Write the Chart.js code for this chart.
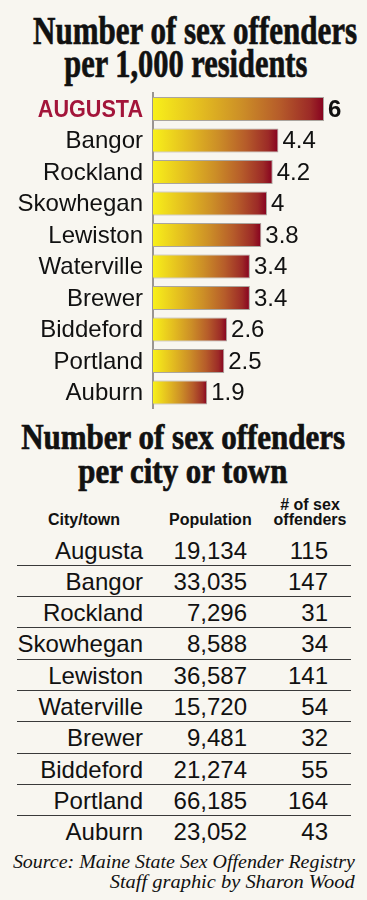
<!DOCTYPE html>
<html>
<head>
<meta charset="utf-8">
<script src="https://cdn.jsdelivr.net/npm/chart.js@4.4.1/dist/chart.umd.min.js"></script>
<style>
  html, body { margin: 0; padding: 0; }
  body { width: 367px; height: 900px; background: #f8f6f0; position: relative; overflow: hidden; color: #111; }
  .tl { position: absolute; text-align: center; white-space: nowrap; font-family: "Liberation Serif", serif; font-weight: bold; color: #111; -webkit-text-stroke: 0.7px #111; }
  .tl span { display: inline-block; transform-origin: center center; }
  #chartBox { position: absolute; left: 0; top: 88px; width: 367px; height: 324px; }
  .row { position: absolute; left: 17px; width: 334px; height: 31.3px; font-family: "Liberation Sans", Arial, sans-serif; font-size: 24px; line-height: 31.3px; color: #111; box-sizing: border-box; }
  .row.rule { border-bottom: 1px solid #3a3a3a; }
  .cell { position: absolute; top: 0; text-align: right; white-space: nowrap; }
  .hdr { position: absolute; font-family: "Liberation Sans", Arial, sans-serif; font-weight: bold; font-size: 16px; line-height: 15px; white-space: nowrap; color: #111; }
  .src { position: absolute; right: 12px; font-family: "Liberation Serif", serif; font-style: italic; font-size: 19px; line-height: 19px; white-space: nowrap; color: #111; }
  .src span { display: inline-block; transform-origin: right center; }
</style>
</head>
<body>
<div class="tl" id="t1a" style="left:-14px;width:400px;top:11px;font-size:40px;line-height:40px;"><span>Number of sex offenders</span></div>
<div class="tl" id="t1b" style="left:-14px;width:400px;top:44px;font-size:40px;line-height:40px;"><span>per 1,000 residents</span></div>

<div id="chartBox"><canvas id="c"></canvas></div>

<div class="tl" id="t2a" style="left:-17px;width:400px;top:419px;font-size:36px;line-height:36px;"><span>Number of sex offenders</span></div>
<div class="tl" id="t2b" style="left:-17px;width:400px;top:453px;font-size:36px;line-height:36px;"><span>per city or town</span></div>

<div class="hdr" style="left:48px;top:512px;">City/town</div>
<div class="hdr" style="left:169px;top:512px;">Population</div>
<div class="hdr" style="left:260px;width:100px;text-align:center;top:497px;"># of sex</div>
<div class="hdr" style="left:260px;width:100px;text-align:center;top:512px;">offenders</div>

<div id="table"></div>

<div class="src" style="top:852px;"><span id="s1">Source: Maine State Sex Offender Registry</span></div>
<div class="src" style="top:872px;"><span id="s2">Staff graphic by Sharon Wood</span></div>

<script>
// ---- data ----
const barLabels = ["AUGUSTA", "Bangor", "Rockland", "Skowhegan", "Lewiston", "Waterville", "Brewer", "Biddeford", "Portland", "Auburn"];
const ratePer1000 = [6, 4.4, 4.2, 4, 3.8, 3.4, 3.4, 2.6, 2.5, 1.9];
const rateText = ["6", "4.4", "4.2", "4", "3.8", "3.4", "3.4", "2.6", "2.5", "1.9"];
const tableCities = ["Augusta", "Bangor", "Rockland", "Skowhegan", "Lewiston", "Waterville", "Brewer", "Biddeford", "Portland", "Auburn"];
const population = [19134, 33035, 7296, 8588, 36587, 15720, 9481, 21274, 66185, 23052];
const offenders = [115, 147, 31, 34, 141, 54, 32, 55, 164, 43];

// ---- titles: condense to fit ----
function fit(id, target) {
  const el = document.querySelector('#' + id + ' span') || document.getElementById(id);
  const w = el.getBoundingClientRect().width;
  el.style.transform = 'scaleX(' + (target / w) + ')';
}
fit('t1a', 324); fit('t1b', 243); fit('t2a', 324); fit('t2b', 209);
fit('s1', 342); fit('s2', 245);

// ---- table ----
const tbl = document.getElementById('table');
tableCities.forEach((city, i) => {
  const r = document.createElement('div');
  r.className = 'row' + (i < tableCities.length - 1 ? ' rule' : '');
  r.style.top = (534.5 + i * 31.3) + 'px';
  const c1 = document.createElement('div'); c1.className = 'cell'; c1.style.right = (351 - 143) + 'px'; c1.textContent = city;
  const c2 = document.createElement('div'); c2.className = 'cell'; c2.style.right = (351 - 247) + 'px'; c2.textContent = population[i].toLocaleString('en-US');
  const c3 = document.createElement('div'); c3.className = 'cell'; c3.style.right = (351 - 328) + 'px'; c3.textContent = String(offenders[i]);
  r.appendChild(c1); r.appendChild(c2); r.appendChild(c3);
  tbl.appendChild(r);
});

// ---- chart ----
const FONT = '"Liberation Sans", Arial, sans-serif';
function barGradient(ctx) {
  const chart = ctx.chart;
  const xs = chart.scales && chart.scales.x;
  if (!chart.chartArea || !xs || ctx.raw === undefined) return '#d09a28';
  const x0 = xs.getPixelForValue(0);
  const x1 = xs.getPixelForValue(ctx.raw);
  const g = chart.ctx.createLinearGradient(x0, 0, x1, 0);
  g.addColorStop(0, '#f8f01a');
  g.addColorStop(0.28, '#e3bc20');
  g.addColorStop(0.52, '#cc8e27');
  g.addColorStop(0.74, '#b65c2a');
  g.addColorStop(0.92, '#9c2a27');
  g.addColorStop(1, '#86001f');
  return g;
}

// category labels (drawn at the y scale's tick positions) and value labels
const labelsPlugin = {
  id: 'labelsPlugin',
  afterDatasetsDraw(chart) {
    const c = chart.ctx;
    const ys = chart.scales.y;
    const meta = chart.getDatasetMeta(0);
    const axisX = chart.chartArea.left;
    c.save();
    c.textBaseline = 'middle';
    barLabels.forEach((lab, i) => {
      const y = ys.getPixelForValue(i);
      c.save();
      c.textAlign = 'right';
      if (i === 0) {
        c.font = 'bold 24px ' + FONT;
        c.fillStyle = '#a3153a';
        c.translate(axisX - 10, y + 1);
        c.scale(0.9, 1);
        c.fillText(lab, 0, 0);
      } else {
        c.font = '24px ' + FONT;
        c.fillStyle = '#111';
        c.fillText(lab, axisX - 10, y + 1);
      }
      c.restore();
    });
    c.textAlign = 'left';
    c.fillStyle = '#111';
    meta.data.forEach((bar, i) => {
      c.font = (i === 0 ? 'bold ' : '') + '24px ' + FONT;
      c.fillText(rateText[i], bar.x + 4, bar.y + 1);
    });
    c.restore();
  }
};

new Chart(document.getElementById('c'), {
  type: 'bar',
  data: {
    labels: barLabels,
    datasets: [{
      data: ratePer1000,
      backgroundColor: barGradient,
      borderColor: '#aaa59e',
      borderWidth: 1,
      borderSkipped: 'start',
      categoryPercentage: 1,
      barPercentage: 0.76
    }]
  },
  options: {
    indexAxis: 'y',
    responsive: true,
    maintainAspectRatio: false,
    animation: false,
    layout: { padding: { left: 153, right: 14.5, top: 5.3, bottom: 3.7 } },
    plugins: { legend: { display: false }, tooltip: { enabled: false }, title: { display: false } },
    scales: {
      x: { display: false, min: 0, max: 7 },
      y: {
        grid: { display: false, drawTicks: false },
        border: { display: true, color: '#9a9590', width: 2 },
        ticks: { display: false, autoSkip: false }
      }
    }
  },
  plugins: [labelsPlugin]
});
</script>
</body>
</html>
